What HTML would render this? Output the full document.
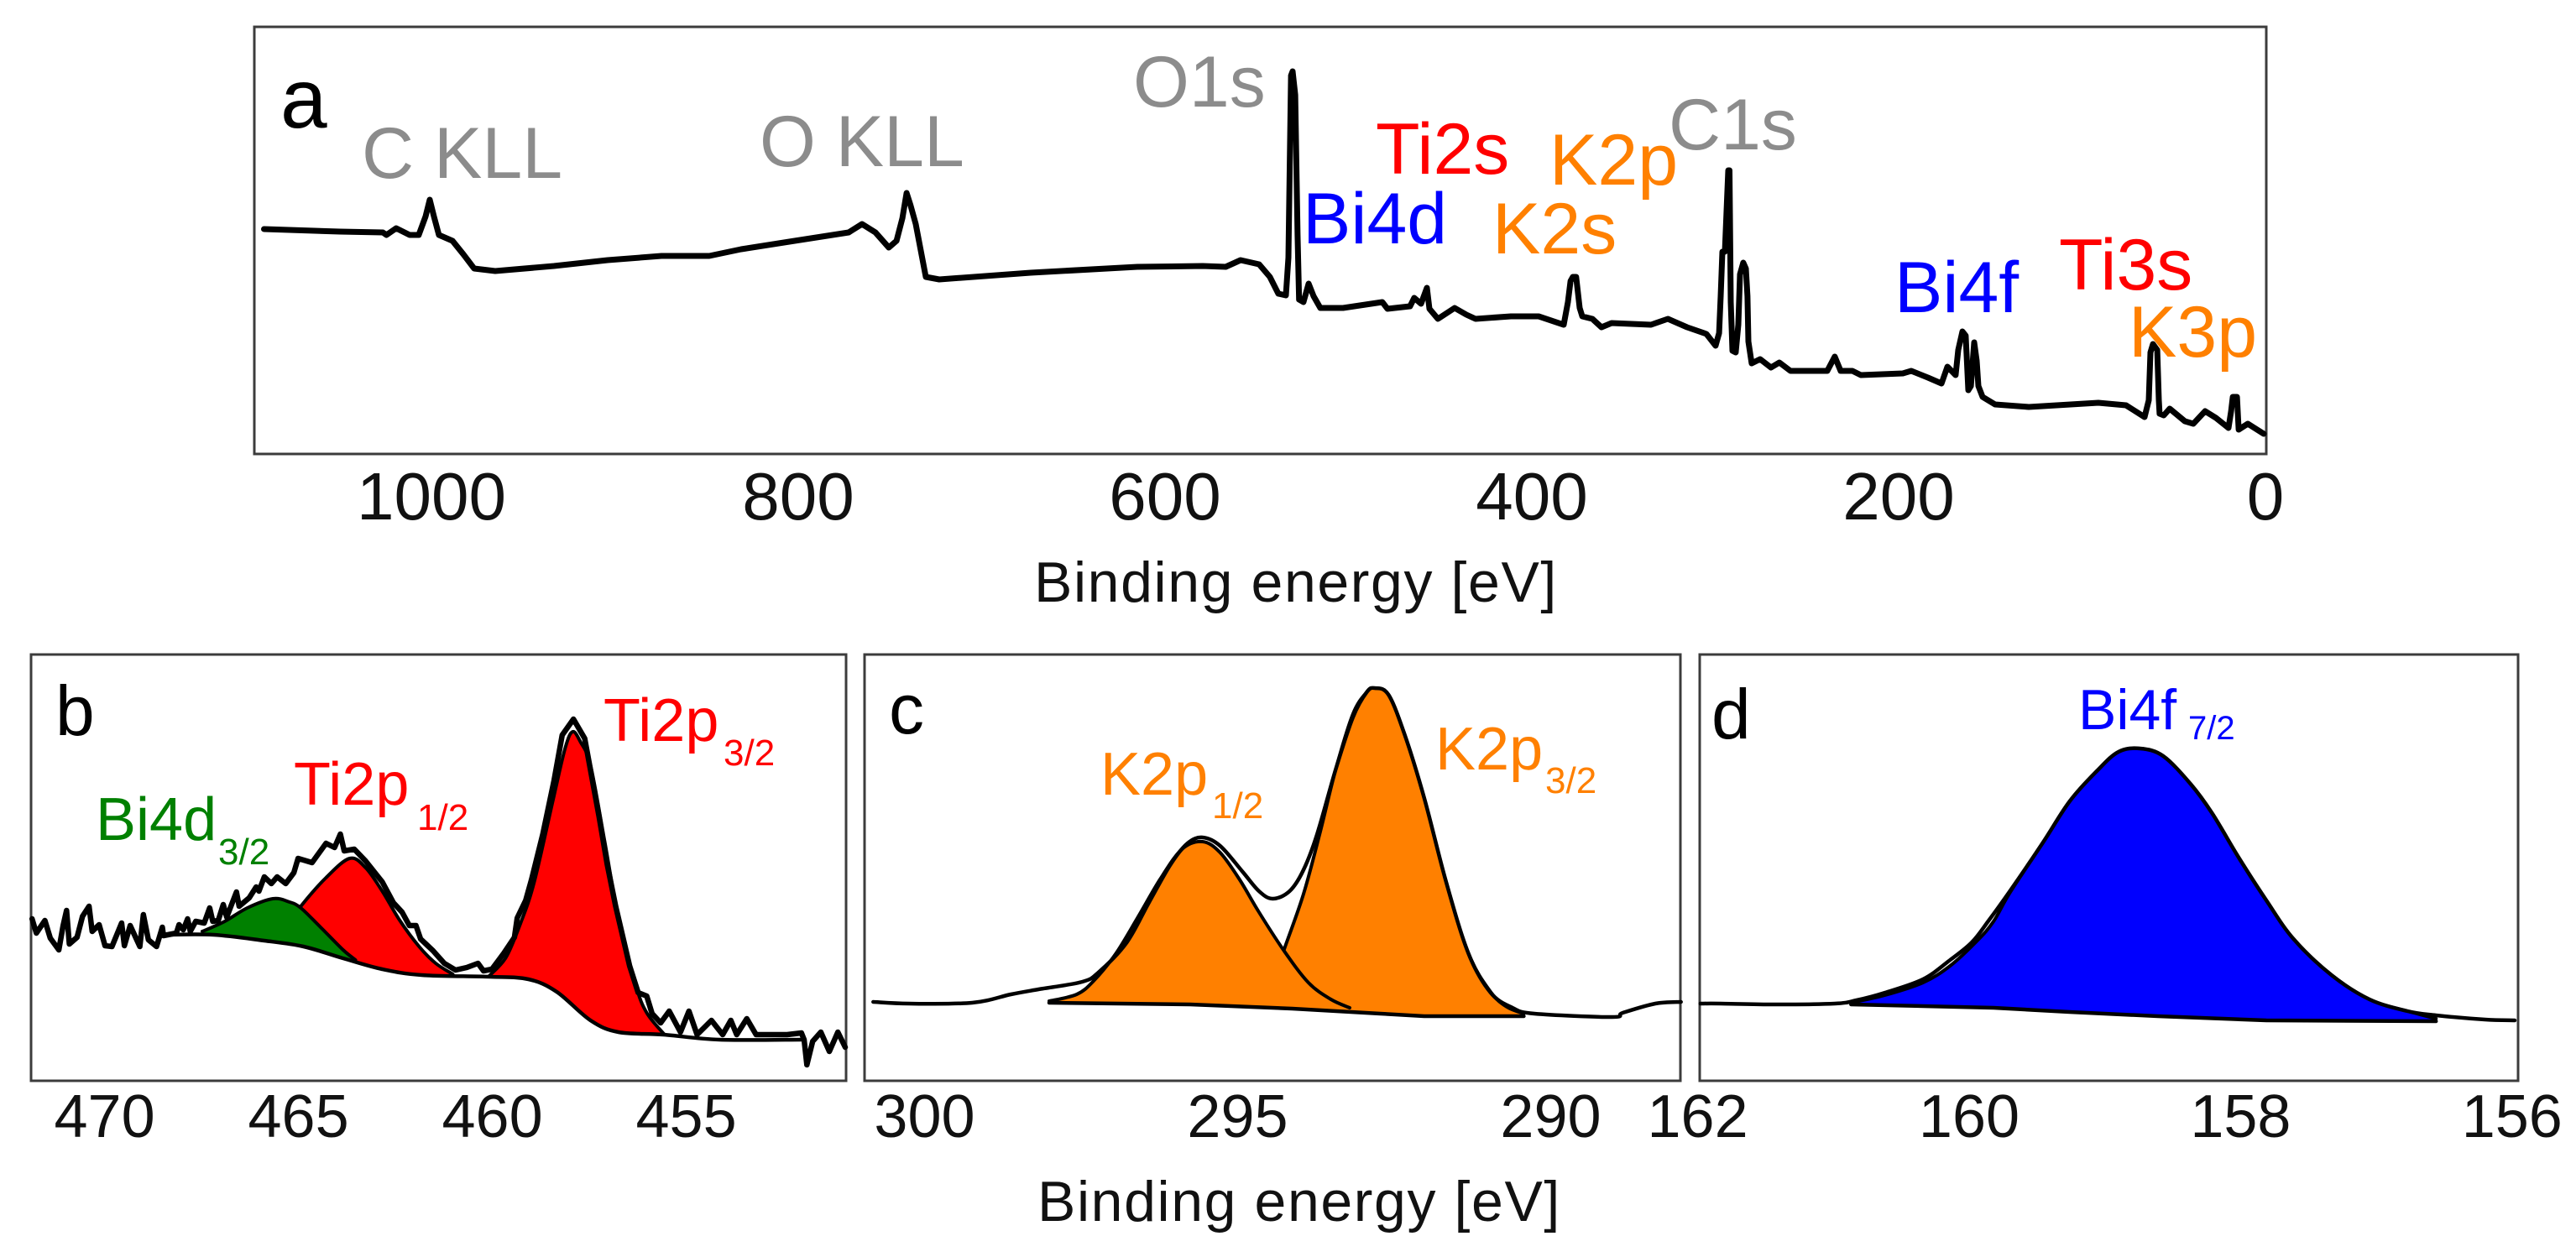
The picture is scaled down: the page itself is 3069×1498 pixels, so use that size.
<!DOCTYPE html>
<html lang="en">
<head>
<meta charset="utf-8">
<title>XPS spectra</title>
<style>
html,body{margin:0;padding:0;background:#fff;}
svg{display:block;}
text{font-family:"Liberation Sans",Arial,sans-serif;}
.peak-label{font-size:86px;}
.panel-letter{font-size:84px;fill:#000;}
.fit-label{font-size:72px;}
.grey{fill:#8c8c8c;}.red{fill:#ff0000;}.orange{fill:#ff8000;}.blue{fill:#0000ff;}.green{fill:#008000;}
.frame{fill:none;stroke:#3c3c3c;stroke-width:3;}
.axis-title{font-size:68px;letter-spacing:1.6px;fill:#111;}
</style>
</head>
<body>
<svg id="chart" xmlns="http://www.w3.org/2000/svg" width="3069" height="1498" viewBox="0 0 3069 1498">
  <rect x="0" y="0" width="3069" height="1498" fill="#fff"/>
  <rect class="frame" x="303" y="32" width="2397" height="509"/>
  <rect class="frame" x="37" y="780" width="971" height="508"/>
  <rect class="frame" x="1030" y="780" width="972" height="508"/>
  <rect class="frame" x="2025" y="780" width="975" height="508"/>
  <g id="marks"></g>
  <g id="ticks"></g>

  <text x="334" y="152" style="font-size:100px" fill="#000">a</text>
  <text class="panel-letter" x="66" y="876">b</text>
  <text class="panel-letter" x="1059" y="874">c</text>
  <text class="panel-letter" x="2039" y="880">d</text>

  <text class="peak-label grey" x="431" y="212">C KLL</text>
  <text class="peak-label grey" x="905" y="198">O KLL</text>
  <text class="peak-label grey" x="1350" y="127">O1s</text>
  <text class="peak-label red" x="1639" y="207">Ti2s</text>
  <text class="peak-label orange" x="1846" y="220">K2p</text>
  <text class="peak-label blue" x="1552" y="290">Bi4d</text>
  <text class="peak-label orange" x="1778" y="302">K2s</text>
  <text class="peak-label grey" x="1988" y="178">C1s</text>
  <text class="peak-label blue" x="2257" y="372">Bi4f</text>
  <text class="peak-label red" x="2453" y="345">Ti3s</text>
  <text class="peak-label orange" x="2536" y="425">K3p</text>

  <text class="fit-label red" x="719" y="883">Ti2p<tspan x="862" y="912" font-size="44">3/2</tspan></text>
  <text class="fit-label red" x="350" y="959">Ti2p<tspan x="497" y="989" font-size="44">1/2</tspan></text>
  <text class="fit-label green" x="114" y="1001">Bi4d<tspan x="260" y="1030" font-size="44">3/2</tspan></text>
  <text class="fit-label orange" x="1311" y="947">K2p<tspan x="1444" y="975" font-size="44">1/2</tspan></text>
  <text class="fit-label orange" x="1710" y="917">K2p<tspan x="1841" y="945" font-size="44">3/2</tspan></text>
  <text class="blue" style="font-size:68px" x="2476" y="869">Bi4f<tspan x="2607" y="881" font-size="40">7/2</tspan></text>

  <text class="axis-title" x="1232" y="717">Binding energy [eV]</text>
  <text class="axis-title" x="1236" y="1455">Binding energy [eV]</text>
</svg>
<script>
// Panel a: survey spectrum
const surveyEnergy = [1090.4,1049,1025.6,1023.6,1018.3,1011,1006,1002.3,1000,997.7,995,987.6,981.7,975.8,964.3,932.3,903,873.7,847.6,830.2,801,771.6,764.3,757,749.7,745.5,742.3,740,737.8,735,729.5,722.2,672.3,614.2,578.5,566,557.9,547.8,541.9,537.3,533.2,531.8,530.4,529.5,528.1,526.8,526,523.6,520.8,518.1,514.4,502,480.6,477.8,465.5,463.2,459.5,456.3,454.9,450.3,441.2,434.8,429.8,410.5,395.4,381.7,379.4,378,376.7,374.9,373,371.6,366.1,361.1,355.6,334.1,324.9,314.4,303.9,298.9,297,296.1,295.2,293.8,292,291.3,290.6,289.7,287.9,286.5,285.6,283.8,282.4,281.5,281,279.2,274.6,268.7,264.1,258.1,238,233.9,230.7,224.3,219.7,196.8,192.2,183.1,175.7,172.5,168,166.6,164.3,162.5,162,161.1,159.7,157.9,156.5,155.6,153.3,146.5,128.1,90.2,75.1,65,62.7,61.8,60.4,58.1,57.2,56.8,54.5,51.3,43,38.4,32,26.1,19.2,17.8,16.9,14.6,13.7,8.7,0];
const surveyIntensity = [268,265,264,261,269,261,261,283,303,283,261,254,238,221,218,224,231,236,236,244,254,264,274,264,246,254,281,311,296,274,211,208,216,223,224,223,231,226,211,191,189,234,451,456,428,261,184,181,203,188,174,174,181,173,176,186,179,198,173,161,174,166,161,164,164,154,181,206,211,211,174,164,161,151,156,154,161,151,143,129,144,188,241,241,338,338,181,123,121,154,214,228,221,188,134,108,113,103,109,99,99,116,99,99,94,96,99,91,84,104,94,124,146,141,118,76,81,133,111,81,68,59,56,61,58,44,64,121,131,124,64,48,46,54,39,36,51,43,31,51,68,68,29,36,24];
const surveyTicks = [1000,800,600,400,200,0];

// Panel b: Ti2p / Bi4d region
const bRawEnergy = [471.87,471.76,471.54,471.40,471.18,471.07,470.98,470.91,470.71,470.57,470.40,470.32,470.14,469.99,469.81,469.56,469.49,469.34,469.09,469.00,468.87,468.66,468.51,468.48,468.15,468.08,467.97,467.86,467.79,467.65,467.43,467.29,467.21,467.07,466.94,466.85,466.60,466.53,466.27,466.09,466.02,465.88,465.70,465.55,465.33,465.12,465.01,464.65,464.29,464.07,463.92,463.82,463.56,463.27,462.84,462.55,462.33,462.14,461.97,461.85,461.53,461.24,460.95,460.66,460.37,460.23,460.01,459.72,459.43,459.36,459.14,458.99,458.70,458.41,458.20,457.91,457.62,457.25,457.04,456.82,456.46,456.24,456.02,455.88,455.66,455.44,455.15,454.93,454.72,454.35,454.06,453.85,453.70,453.44,453.20,452.40,452.03,451.96,451.89,451.74,451.53,451.31,451.09,450.90];
const bRawIntensity = [193,176,191,170,156,185,203,163,171,196,208,178,186,161,160,188,161,185,160,198,168,160,183,173,176,186,180,193,178,190,188,206,190,191,210,195,225,208,218,231,226,243,235,243,235,248,265,260,283,278,294,274,276,262,237,212,201,185,185,169,155,140,132,135,140,131,133,151,171,194,215,240,294,358,412,431,408,315,258,208,137,105,101,80,69,83,58,83,55,72,55,72,55,74,55,55,57,49,19,47,58,35,58,40];
const bBackgroundEnergy = [468.49,467.19,465.88,464.87,463.85,462.84,461.82,460.08,459.07,458.34,457.47,456.75,455.59,454.14,452.03];
const bBackgroundIntensity = [174,174,167,160,146,133,126,124,121,106,72,58,55,49,49];
const biPeakEnergy = [467.48,466.90,466.32,465.66,465.23,464.94,464.43,463.85,463.53];
const biPeakIntensity = [178,190,206,217,213,206,183,156,144];
const ti12PeakEnergy = [465.59,464.94,464.29,463.68,463.27,462.84,462.40,461.89,461.46,461.02];
const ti12PeakIntensity = [167,208,242,265,254,226,192,160,140,127];
const ti32PeakEnergy = [460.08,459.65,459.28,458.92,458.41,458.12,457.93,457.73,457.47,457.11,456.75,456.31,456.02,455.56];
const ti32PeakIntensity = [125,147,187,237,340,397,416,404,376,287,194,115,81,55];
const bTicks = [470,465,460,455];

// Panel c: K2p region
const cRawEnergy = [300.82,300.25,299.24,298.62,298.18,297.48,297.21,296.77,296.42,296.07,295.80,295.56,295.28,294.92,294.66,294.44,294.17,293.95,293.73,293.43,293.16,292.94,292.81,292.59,292.33,292.02,291.67,291.31,290.96,290.61,290.26,289.02,288.85,288.33,287.92];
const cRawIntensity = [94,92,93,103,109,118,130,165,212,258,283,290,280,249,226,217,226,251,294,372,433,463,468,460,412,337,237,151,105,87,80,76,81,92,94];
const cBackgroundEnergy = [298.01,295.76,294.13,292.72,292.02,290.43];
const cBackgroundIntensity = [93,91,86,80,77,77];
const k12PeakEnergy = [298.01,297.57,297.30,296.95,296.60,296.24,295.89,295.56,295.28,294.97,294.66,294.26,293.87,293.51,293.21];
const k12PeakIntensity = [95,103,119,151,194,240,276,285,272,240,201,155,117,97,87];
const k32PeakEnergy = [294.48,294.26,293.95,293.69,293.43,293.16,292.94,292.81,292.59,292.33,292.02,291.67,291.31,290.96,290.70,290.43];
const k32PeakIntensity = [108,156,222,294,372,437,463,468,460,412,337,237,151,106,88,80];
const cTicks = [300,295,290];

// Panel d: Bi4f region
const dRawEnergy = [161.98,161.83,161.43,160.99,160.83,160.62,160.34,160.14,159.98,159.86,159.70,159.46,159.26,159.06,158.90,158.74,158.57,158.37,158.21,158.01,157.81,157.61,157.33,157.05,156.77,156.56,156.20,155.98];
const dRawIntensity = [92,92,91,92,96,105,121,144,165,190,226,283,333,369,392,396,387,354,319,265,215,169,126,97,83,78,73,72];
const dBackgroundEnergy = [160.87,159.82,159.26,158.61,157.81,156.56];
const dBackgroundIntensity = [91,87,82,77,72,71];
const bi4fPeakEnergy = [160.87,160.62,160.34,160.14,159.94,159.82,159.70,159.46,159.26,159.06,158.90,158.74,158.57,158.37,158.21,158.01,157.81,157.61,157.33,157.05,156.77,156.56];
const bi4fPeakIntensity = [93,102,117,137,167,190,224,283,333,369,392,396,387,354,319,265,215,169,126,97,83,74];
const dTicks = [162,160,158,156];

const SVG_NS = 'http://www.w3.org/2000/svg';
const marks = document.getElementById('marks');
const ticks = document.getElementById('ticks');

// Axis functions
const xA = e => 2697 - 2.185 * e;
const yA = i => 541 - i;
const xB = e => 124.6 + (470 - e) * 46.2;
const xC = e => 1474.5 + (295 - e) * 74.6;
const xD = e => 2346 + (160 - e) * 161.7;
const yLow = i => 1288 - i;

function linePath(xs, ys, xf, yf) {
  return xs.map((e, k) => (k ? 'L' : 'M') + xf(e).toFixed(1) + ' ' + yf(ys[k]).toFixed(1)).join(' ');
}
function smoothPath(xs, ys, xf, yf) {
  const p = xs.map((e, k) => [xf(e), yf(ys[k])]);
  let d = 'M' + p[0][0].toFixed(1) + ' ' + p[0][1].toFixed(1);
  for (let k = 0; k < p.length - 1; k++) {
    const a = p[Math.max(k - 1, 0)], b = p[k], c = p[k + 1], e = p[Math.min(k + 2, p.length - 1)];
    const c1x = b[0] + (c[0] - a[0]) / 6, c1y = b[1] + (c[1] - a[1]) / 6;
    const c2x = c[0] - (e[0] - b[0]) / 6, c2y = c[1] - (e[1] - b[1]) / 6;
    d += ' C' + c1x.toFixed(1) + ' ' + c1y.toFixed(1) + ' ' + c2x.toFixed(1) + ' ' + c2y.toFixed(1) + ' ' + c[0].toFixed(1) + ' ' + c[1].toFixed(1);
  }
  return d;
}
function bgAt(e, bgE, bgI) {
  if (e >= bgE[0]) return bgI[0];
  for (let k = 1; k < bgE.length; k++) {
    if (e >= bgE[k]) {
      const t = (bgE[k - 1] - e) / (bgE[k - 1] - bgE[k]);
      return bgI[k - 1] + t * (bgI[k] - bgI[k - 1]);
    }
  }
  return bgI[bgI.length - 1];
}
function addLine(name, xs, ys, xf, yf, width, smooth) {
  const el = document.createElementNS(SVG_NS, 'path');
  el.setAttribute('d', smooth ? smoothPath(xs, ys, xf, yf) : linePath(xs, ys, xf, yf));
  el.setAttribute('fill', 'none');
  el.setAttribute('stroke', '#000');
  el.setAttribute('stroke-width', width);
  el.setAttribute('stroke-linejoin', 'round');
  el.setAttribute('stroke-linecap', 'round');
  
  
  marks.appendChild(el);
}
function addPeak(name, color, pE, pI, bgE, bgI, xf, yf) {
  let d = smoothPath(pE, pI, xf, yf);
  const first = pE[0], last = pE[pE.length - 1];
  d += ' L' + xf(last).toFixed(1) + ' ' + yf(bgAt(last, bgE, bgI)).toFixed(1);
  for (let k = bgE.length - 1; k >= 0; k--) {
    if (bgE[k] > last && bgE[k] < first) {
      d += ' L' + xf(bgE[k]).toFixed(1) + ' ' + yf(bgI[k]).toFixed(1);
    }
  }
  d += ' L' + xf(first).toFixed(1) + ' ' + yf(bgAt(first, bgE, bgI)).toFixed(1) + ' Z';
  const el = document.createElementNS(SVG_NS, 'path');
  el.setAttribute('d', d);
  el.setAttribute('fill', color);
  
  
  marks.appendChild(el);
  addLine(name + '-outline', pE, pI, xf, yf, 4, true);
}
function addTicks(name, values, xf, baseline, size, dx) {
  values.forEach(v => {
    const t = document.createElementNS(SVG_NS, 'text');
    t.setAttribute('x', (xf(v) + dx).toFixed(1));
    t.setAttribute('y', baseline);
    t.setAttribute('text-anchor', 'middle');
    t.setAttribute('font-size', size);
    t.setAttribute('fill', '#111');
    
    
    t.textContent = v;
    ticks.appendChild(t);
  });
}

// Panel a
addLine('survey-spectrum', surveyEnergy, surveyIntensity, xA, yA, 7, false);
addTicks('survey-x-tick', surveyTicks, xA, 619, 80, 2);

// Panel b
addPeak('ti2p-1-2-peak', '#ff0000', ti12PeakEnergy, ti12PeakIntensity, bBackgroundEnergy, bBackgroundIntensity, xB, yLow);
addPeak('ti2p-3-2-peak', '#ff0000', ti32PeakEnergy, ti32PeakIntensity, bBackgroundEnergy, bBackgroundIntensity, xB, yLow);
addPeak('bi4d-3-2-peak', '#008000', biPeakEnergy, biPeakIntensity, bBackgroundEnergy, bBackgroundIntensity, xB, yLow);
addLine('ti-background', bBackgroundEnergy, bBackgroundIntensity, xB, yLow, 4.5, true);
addLine('ti-raw-spectrum', bRawEnergy, bRawIntensity, xB, yLow, 6.5, false);
addTicks('ti-x-tick', bTicks, xB, 1355, 72, 0);

// Panel c
addPeak('k2p-3-2-peak', '#ff8000', k32PeakEnergy, k32PeakIntensity, cBackgroundEnergy, cBackgroundIntensity, xC, yLow);
addPeak('k2p-1-2-peak', '#ff8000', k12PeakEnergy, k12PeakIntensity, cBackgroundEnergy, cBackgroundIntensity, xC, yLow);
addLine('k-background', cBackgroundEnergy, cBackgroundIntensity, xC, yLow, 4.5, false);
addLine('k-raw-spectrum', cRawEnergy, cRawIntensity, xC, yLow, 4.5, true);
addTicks('k-x-tick', cTicks, xC, 1355, 72, 0);

// Panel d
addPeak('bi4f-7-2-peak', '#0000ff', bi4fPeakEnergy, bi4fPeakIntensity, dBackgroundEnergy, dBackgroundIntensity, xD, yLow);
addLine('bi-background', dBackgroundEnergy, dBackgroundIntensity, xD, yLow, 4.5, false);
addLine('bi-raw-spectrum', dRawEnergy, dRawIntensity, xD, yLow, 4.5, true);
addTicks('bi-x-tick', dTicks, xD, 1355, 72, 0);
</script>
</body>
</html>
